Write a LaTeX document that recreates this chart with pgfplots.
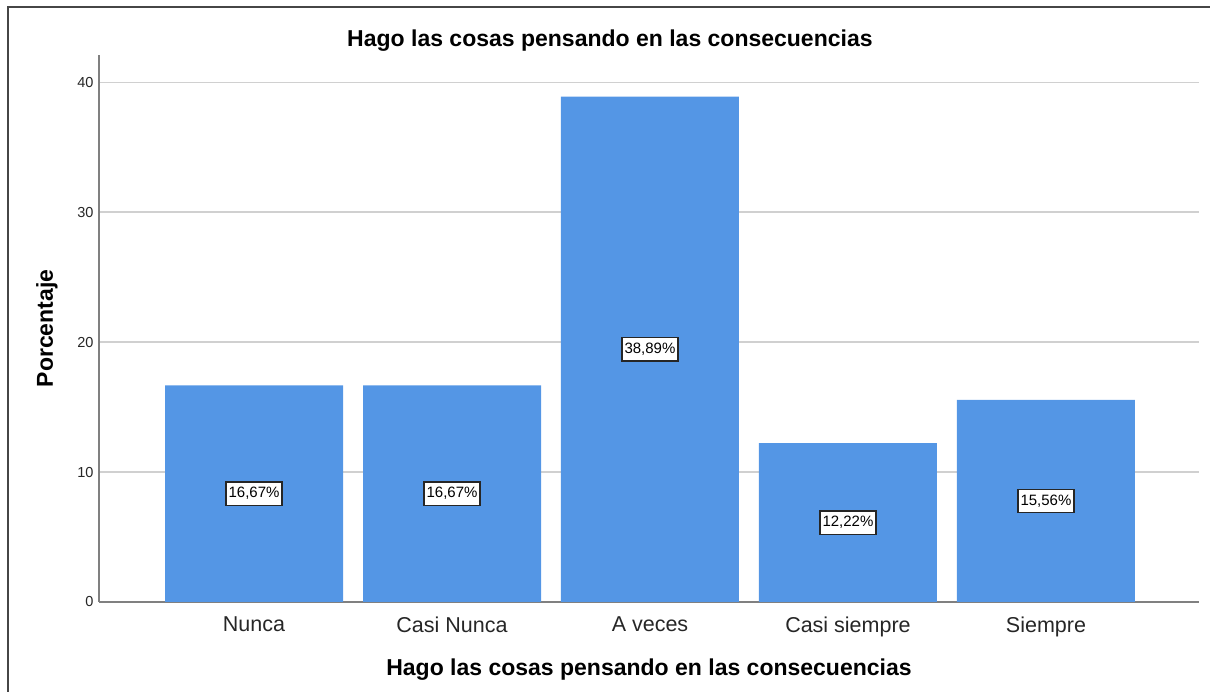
\documentclass[border=0pt]{standalone}
\usepackage{fontspec}
\setmainfont{Liberation Sans}
\usepackage{pgfplots}
\pgfplotsset{compat=1.18}
\definecolor{barblue}{RGB}{84,150,229}
\definecolor{gridgray}{RGB}{208,208,208}
\definecolor{axisgray}{RGB}{128,128,128}
\definecolor{framegray}{RGB}{70,70,70}
\begin{document}
\begin{tikzpicture}[x=1pt,y=1pt]
\begin{axis}[
  scale only axis, width=1100pt, height=547pt,
  xmin=-0.783, xmax=4.773, ymin=0, ymax=42.1,
  axis x line*=bottom, axis y line*=left,
  axis line style={axisgray,line width=1.5pt},
  x axis line style={-}, y axis line style={-},
  xtick={0,1,2,3,4},
  xticklabels={Nunca,Casi Nunca,A veces,Casi siempre,Siempre},
  ytick={0,10,20,30,40},
  major tick length=0pt,
  ymajorgrids, grid style={gridgray,line width=1.5pt},
  /pgf/number format/assume math mode=true,
  xticklabel style={font=\fontsize{21.5}{24}\selectfont, text=black!85, yshift=-11pt},
  yticklabel style={font=\fontsize{14.5}{16}\selectfont, text=black!85, xshift=-2pt},
  title={Hago las cosas pensando en las consecuencias},
  title style={font=\fontsize{23}{26}\selectfont\bfseries, at={(rel axis cs:0.4645,1.0162)}, anchor=center},
  xlabel={Hago las cosas pensando en las consecuencias},
  xlabel style={font=\fontsize{23}{26}\selectfont\bfseries, at={(rel axis cs:0.5,-0.1243)}, anchor=center},
  ylabel={Porcentaje},
  ylabel style={font=\fontsize{23}{26}\selectfont\bfseries, at={(rel axis cs:-0.0473,0.5)}, anchor=center},
  clip=false,
]
\coordinate (O) at (rel axis cs:0,0);
\addplot[ybar, bar width=178pt, fill=barblue, draw=none, bar shift=0pt]
  coordinates {(0,16.67) (1,16.67) (2,38.89) (3,12.22) (4,15.56)};
\addplot[only marks, mark=none, point meta=explicit symbolic,
  nodes near coords,
  every node near coord/.append style={anchor=center, fill=white, draw=black!85, line width=1.2pt,
    font=\fontsize{15}{17}\selectfont, inner xsep=2.5pt, inner ysep=5.5pt, text=black}]
  coordinates {(0,8.335) [16,67\%] (1,8.335) [16,67\%] (2,19.445) [38,89\%] (3,6.11) [12,22\%] (4,7.78) [15,56\%]};
\end{axis}
\pgfresetboundingbox
\useasboundingbox ([shift={(-99,-90)}]O) rectangle ++(1210,692);
\draw[framegray,line width=1.5pt] ([shift={(-91,-100)}]O) -- ++(0,695) -- ++(1220,0);
\end{tikzpicture}
\end{document}
